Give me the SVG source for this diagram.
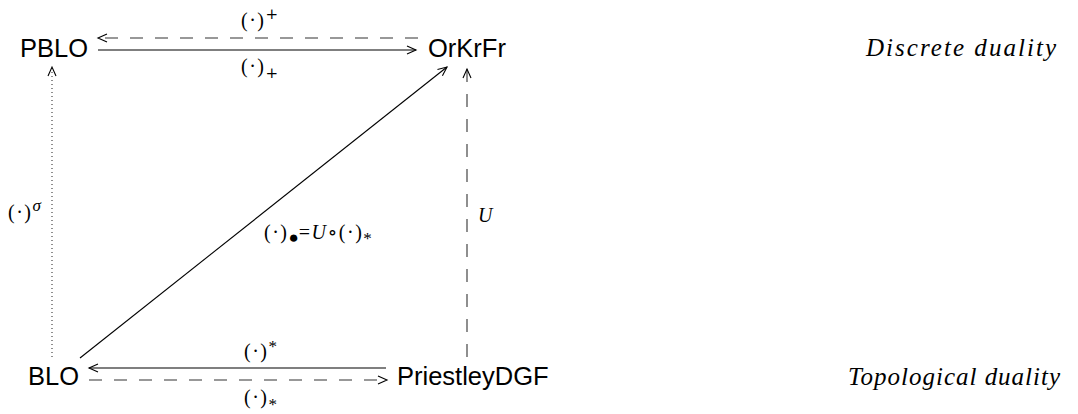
<svg xmlns="http://www.w3.org/2000/svg" width="1078" height="414" viewBox="0 0 1078 414">
<defs>
<style>
.node{font-family:"Liberation Sans","DejaVu Sans",sans-serif;font-size:25.5px;fill:#000}
.lbl{font-family:"Liberation Serif","DejaVu Serif",serif;font-size:20px;fill:#000;letter-spacing:1.5px}
.sup{font-size:17px;letter-spacing:0}
.plus{font-family:"DejaVu Serif",serif;font-size:15px;letter-spacing:0}
.it{font-style:italic}
.side{font-family:"Liberation Serif","DejaVu Serif",serif;font-style:italic;font-size:25px;fill:#000}
.solid{stroke:#000;stroke-width:1.1;fill:none}
.dash{stroke:#333;stroke-width:1.1;fill:none;stroke-dasharray:13 12}
.dot{stroke:#333;stroke-width:1.1;fill:none;stroke-dasharray:1 3}
</style>
<marker id="ah" markerUnits="userSpaceOnUse" markerWidth="14" markerHeight="12" viewBox="-11 -6 14 12" refX="0" refY="0" orient="auto">
<path d="M-9,-4 L0,0 L-9,4" fill="none" stroke="#000" stroke-width="1.1"/>
</marker>
</defs>
<g id="connectors">
<line class="solid" x1="98" y1="50" x2="416" y2="50" marker-end="url(#ah)"/>
<line class="dash" x1="418" y1="38" x2="98" y2="38" marker-end="url(#ah)"/>
<line class="solid" x1="386" y1="368" x2="89" y2="368" marker-end="url(#ah)"/>
<line class="dash" x1="89" y1="380" x2="387" y2="380" marker-end="url(#ah)"/>
<line class="dot" x1="52" y1="357" x2="52" y2="67" marker-end="url(#ah)"/>
<line class="solid" x1="80" y1="358" x2="447" y2="67" marker-end="url(#ah)"/>
<line class="dash" x1="467" y1="357" x2="467" y2="69" marker-end="url(#ah)"/>
<text class="lbl" x="241" y="27">(·)<tspan class="plus" dy="-8">+</tspan></text>
<text class="lbl" x="241" y="73">(·)<tspan class="plus" dy="5">+</tspan></text>
<text class="lbl" x="244" y="358">(·)<tspan class="sup" dy="-6">*</tspan></text>
<text class="lbl" x="244" y="404">(·)<tspan class="sup" dy="6">*</tspan></text>
<text class="lbl" x="8" y="219">(·)<tspan class="sup it" dy="-8">σ</tspan></text>
<text class="lbl" x="478" y="222"><tspan class="it">U</tspan></text>
<text class="lbl" x="264" y="239" letter-spacing="0.8">(·)<tspan class="sup" font-size="14" dy="4">●</tspan><tspan dy="-4">=</tspan><tspan class="it">U</tspan>∘(·)<tspan class="sup" dy="5">*</tspan></text>
</g>
<g id="PBLO"><text class="node" x="20" y="57">PBLO</text></g>
<g id="OrKrFr"><text class="node" x="428" y="57">OrKrFr</text></g>
<g id="BLO"><text class="node" x="28" y="385">BLO</text></g>
<g id="PriestleyDGF"><text class="node" x="397" y="385">PriestleyDGF</text></g>
<g id="side-labels">
<text class="side" x="866" y="56" textLength="190" lengthAdjust="spacing">Discrete duality</text>
<text class="side" x="848" y="385" textLength="212" lengthAdjust="spacing">Topological duality</text>
</g>
</svg>
